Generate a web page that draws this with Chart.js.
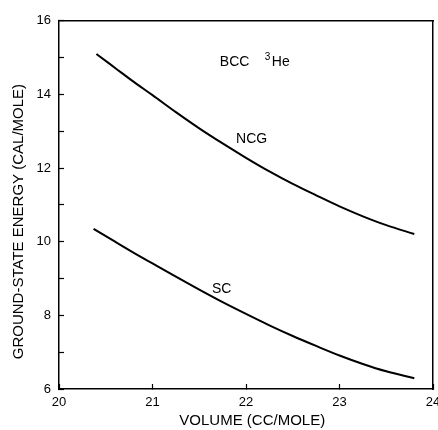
<!DOCTYPE html>
<html><head><meta charset="utf-8">
<script src="https://cdn.jsdelivr.net/npm/chart.js@4"></script>
<style>html,body{margin:0;padding:0;background:#fff}#wrap{width:438px;height:430px;position:relative}</style>
</head><body><div id="wrap"><canvas id="c" width="438" height="430"></canvas></div>
<script>
// ---- data ----
const ncgVolume = [20.4, 20.6, 20.8, 21.0, 21.25, 21.5, 21.75, 22.0, 22.25, 22.5, 22.75, 23.0, 23.25, 23.5, 23.8];
const ncgEnergy = [15.1, 14.72, 14.34, 13.98, 13.52, 13.08, 12.67, 12.28, 11.91, 11.57, 11.26, 10.96, 10.69, 10.45, 10.21];
const scVolume  = [20.37, 20.6, 20.8, 21.0, 21.25, 21.5, 21.75, 22.0, 22.25, 22.5, 22.75, 23.0, 23.25, 23.5, 23.8];
const scEnergy  = [10.35, 10.0, 9.7, 9.41, 9.05, 8.7, 8.36, 8.04, 7.73, 7.44, 7.17, 6.91, 6.68, 6.48, 6.29];
const xTickLabels = ['20', '21', '22', '23', '24'];
const yTickLabels = ['6', '8', '10', '12', '14', '16'];
const xTitle = 'VOLUME (CC/MOLE)';
const yTitle = 'GROUND-STATE ENERGY (CAL/MOLE)';

const FONT = '"Liberation Sans", Arial, sans-serif';
const toPts = (xs, ys) => xs.map((x, i) => ({x, y: ys[i]}));

const annotations = {
  id: 'annotations',
  afterDatasetsDraw(chart) {
    const {ctx, scales: {x, y}} = chart;
    ctx.save();
    ctx.fillStyle = '#000';
    ctx.font = '14px ' + FONT;
    ctx.textAlign = 'center';
    ctx.textBaseline = 'middle';
    ctx.fillText('NCG', x.getPixelForValue(22.06), y.getPixelForValue(12.79));
    ctx.fillText('SC', x.getPixelForValue(21.74), y.getPixelForValue(8.7));
    ctx.textAlign = 'left';
    ctx.textBaseline = 'alphabetic';
    const bx = x.getPixelForValue(21.72), by = y.getPixelForValue(14.77);
    ctx.fillText('BCC', bx, by);
    ctx.font = '10px ' + FONT;
    ctx.fillText('3', bx + 45, by - 6);
    ctx.font = '14px ' + FONT;
    ctx.fillText('He', bx + 52, by);
    ctx.restore();
  }
};

const black = '#000';
new Chart(document.getElementById('c'), {
  type: 'scatter',
  data: {
    datasets: [
      {label: 'NCG', data: toPts(ncgVolume, ncgEnergy), showLine: true, borderColor: black, borderWidth: 2, pointRadius: 0, tension: 0.4, cubicInterpolationMode: 'monotone'},
      {label: 'SC', data: toPts(scVolume, scEnergy), showLine: true, borderColor: black, borderWidth: 2, pointRadius: 0, tension: 0.4, cubicInterpolationMode: 'monotone'}
    ]
  },
  options: {
    responsive: false,
    animation: false,
    devicePixelRatio: 1,
    layout: {padding: {top: 16, right: 5, bottom: 0, left: 0}},
    plugins: {legend: {display: false}, tooltip: {enabled: false}},
    scales: {
      x: {
        type: 'linear', position: 'bottom', min: 20, max: 24,
        ticks: {stepSize: 1, color: black, font: {family: FONT, size: 13}, padding: 11,
                callback: (v) => xTickLabels.includes(String(v)) ? String(v) : ''},
        grid: {drawOnChartArea: false, tickLength: -5, tickColor: black, tickWidth: 1.2},
        border: {color: black, width: 1.5},
        title: {display: true, text: '   ' + xTitle, color: black, font: {family: FONT, size: 15}, padding: {top: 0, bottom: 0}},
        afterFit: (s) => { s.height = 41; s.paddingLeft = 0; s.paddingRight = 0; }
      },
      y: {
        type: 'linear', position: 'left', min: 6, max: 16,
        ticks: {stepSize: 1, color: black, font: {family: FONT, size: 13}, padding: 13,
                callback: (v) => yTickLabels.includes(String(v)) ? String(v) : ''},
        grid: {drawOnChartArea: false, tickLength: -5, tickColor: black, tickWidth: 1.2},
        border: {color: black, width: 1.5},
        title: {display: true, text: yTitle + '        ', color: black, font: {family: FONT, size: 15}, padding: {top: 10, bottom: 0}},
        afterFit: (s) => { s.width = 59; }
      },
      x2: {
        type: 'linear', position: 'top', min: 20, max: 24,
        ticks: {display: false},
        grid: {drawOnChartArea: false, drawTicks: false},
        border: {color: black, width: 1.5},
        afterFit: (s) => { s.height = 0; s.paddingLeft = 0; s.paddingRight = 0; }
      },
      y2: {
        type: 'linear', position: 'right', min: 6, max: 16,
        ticks: {display: false},
        grid: {drawOnChartArea: false, drawTicks: false},
        border: {color: black, width: 1.5},
        afterFit: (s) => { s.width = 0; }
      }
    }
  },
  plugins: [annotations]
});
</script></body></html>
